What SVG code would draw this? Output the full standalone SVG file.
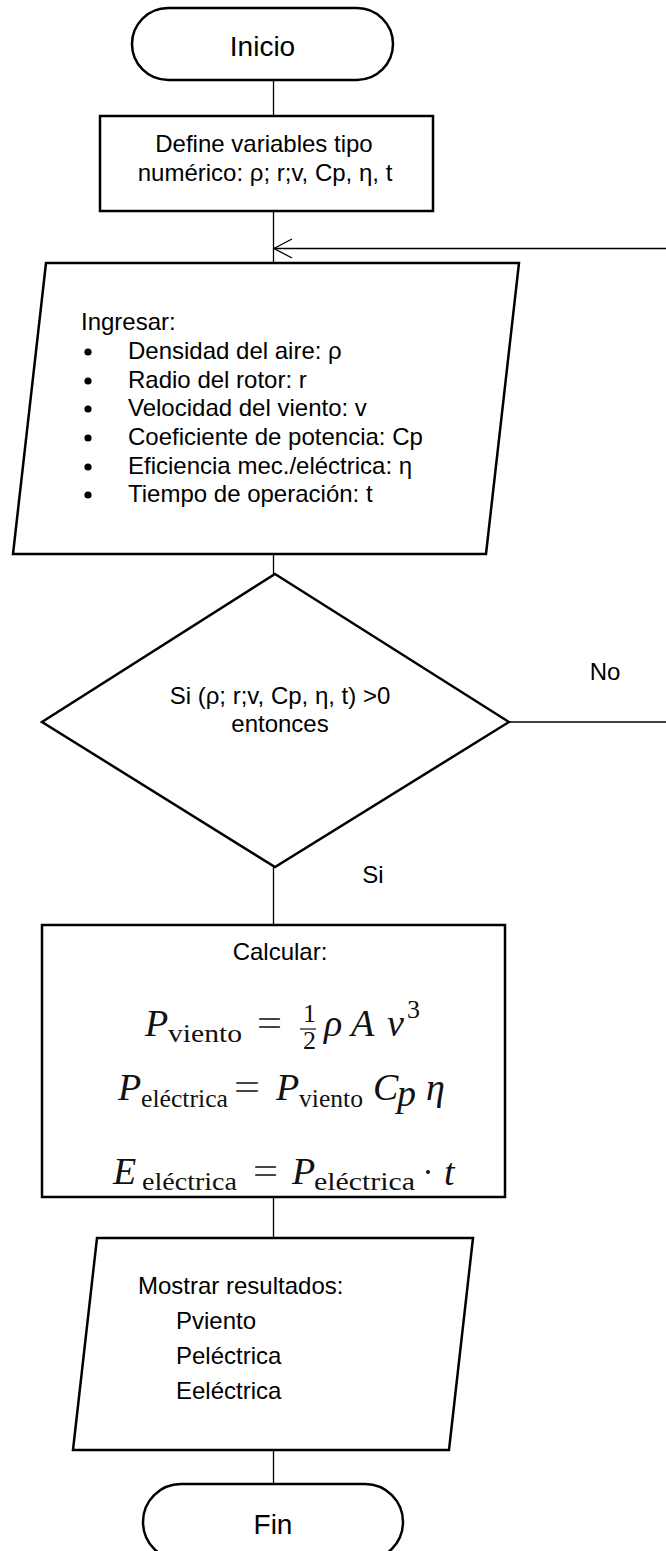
<svg xmlns="http://www.w3.org/2000/svg" width="666" height="1551" viewBox="0 0 666 1551">
<style>
.sh{fill:#fff;stroke:#000;stroke-width:2.5}
.ln{fill:none;stroke:#000;stroke-width:1.3}
.t{font-family:"Liberation Sans",Arial,sans-serif;font-size:24px;fill:#000}
.big{font-size:28px}
.m{text-anchor:middle}
.mi{font-family:"Liberation Serif","Times New Roman",serif;font-style:italic;font-size:38px;fill:#111}
.mr{font-family:"Liberation Serif","Times New Roman",serif;font-size:26px;fill:#111}
.eq{font-family:"Liberation Serif","Times New Roman",serif;font-size:38px;fill:#444}
</style>
<rect width="666" height="1551" fill="#fff"/>
<g id="connectors">
<line class="ln" x1="273.5" y1="80" x2="273.5" y2="116"/>
<line class="ln" x1="273.5" y1="211" x2="273.5" y2="263"/>
<line class="ln" x1="666" y1="248.5" x2="274" y2="248.5"/>
<polyline class="ln" points="292,239 274,248.5 292,258"/>
<line class="ln" x1="273.5" y1="554" x2="273.5" y2="574"/>
<line class="ln" x1="509" y1="722" x2="666" y2="722"/>
<line class="ln" x1="273.5" y1="867" x2="273.5" y2="925"/>
<line class="ln" x1="273.5" y1="1197" x2="273.5" y2="1238"/>
<line class="ln" x1="273.5" y1="1450" x2="273.5" y2="1484"/>
<text class="t" x="605" y="680" text-anchor="middle">No</text>
<text class="t" x="373" y="883" text-anchor="middle">Si</text>
</g>
<g id="inicio">
<rect class="sh" x="132" y="8" width="261" height="72" rx="36" ry="36"/>
<text class="t big m" x="262.5" y="56">Inicio</text>
</g>
<g id="define">
<rect class="sh" x="100" y="116" width="333" height="95"/>
<text class="t m" x="264" y="152">Define variables tipo</text>
<text class="t m" x="265" y="181">numérico: ρ; r;v, Cp, η, t</text>
</g>
<g id="ingresar">
<polygon class="sh" points="46,263 519,263 486,554 13,554"/>
<text class="t" x="81" y="330">Ingresar:</text>
<g fill="#000">
<circle cx="88" cy="352" r="3.6"/>
<circle cx="88" cy="381" r="3.6"/>
<circle cx="88" cy="409" r="3.6"/>
<circle cx="88" cy="438" r="3.6"/>
<circle cx="88" cy="467" r="3.6"/>
<circle cx="88" cy="495" r="3.6"/>
</g>
<text class="t" x="128" y="359">Densidad del aire: ρ</text>
<text class="t" x="128" y="388">Radio del rotor: r</text>
<text class="t" x="128" y="416">Velocidad del viento: v</text>
<text class="t" x="128" y="445">Coeficiente de potencia: Cp</text>
<text class="t" x="128" y="474">Eficiencia mec./eléctrica: η</text>
<text class="t" x="128" y="502">Tiempo de operación: t</text>
</g>
<g id="decision">
<polygon class="sh" points="275,574 509,722 275,867 42,722" stroke-width="2"/>
<text class="t m" x="280" y="704">Si (ρ; r;v, Cp, η, t) &gt;0</text>
<text class="t m" x="280" y="732">entonces</text>
</g>
<g id="calcular">
<rect class="sh" x="42" y="925" width="463" height="272"/>
<text class="t m" x="280" y="960">Calcular:</text>
<text class="mi" x="145" y="1036">P</text>
<text class="mr" x="168" y="1042" textLength="74" lengthAdjust="spacingAndGlyphs">viento</text>
<text class="eq" x="257" y="1036" textLength="25" lengthAdjust="spacingAndGlyphs">=</text>
<text class="mr" x="303" y="1022" font-size="21">1</text>
<line x1="300" y1="1029" x2="316" y2="1029" stroke="#111" stroke-width="1.2"/>
<text class="mr" x="303" y="1049" font-size="21">2</text>
<text class="mi" x="324" y="1036">ρ</text>
<text class="mi" x="351" y="1036">A</text>
<text class="mi" x="387" y="1036">v</text>
<text class="mr" x="407" y="1018" font-size="22">3</text>
<text class="mi" x="118" y="1100">P</text>
<text class="mr" x="141" y="1107" textLength="87" lengthAdjust="spacingAndGlyphs">eléctrica</text>
<text class="eq" x="234" y="1100" textLength="26" lengthAdjust="spacingAndGlyphs">=</text>
<text class="mi" x="276" y="1100">P</text>
<text class="mr" x="299" y="1107" textLength="64" lengthAdjust="spacingAndGlyphs">viento</text>
<text class="mi" x="373" y="1100">C</text>
<text class="mi" x="397" y="1106" font-size="26">p</text>
<text class="mi" x="426" y="1100">η</text>
<text class="mi" x="113" y="1184">E</text>
<text class="mr" x="142" y="1190" textLength="95" lengthAdjust="spacingAndGlyphs">eléctrica</text>
<text class="eq" x="253" y="1184" textLength="25" lengthAdjust="spacingAndGlyphs">=</text>
<text class="mi" x="292" y="1184">P</text>
<text class="mr" x="314" y="1190" textLength="101" lengthAdjust="spacingAndGlyphs">eléctrica</text>
<circle cx="428" cy="1172" r="2" fill="#111"/>
<text class="mi" x="444" y="1185">t</text>
</g>
<g id="mostrar">
<polygon class="sh" points="97,1238 473,1238 449,1450 73,1450"/>
<text class="t" x="138" y="1294">Mostrar resultados:</text>
<text class="t" x="176" y="1329">Pviento</text>
<text class="t" x="176" y="1364">Peléctrica</text>
<text class="t" x="176" y="1399">Eeléctrica</text>
</g>
<g id="fin">
<rect class="sh" x="143" y="1484" width="260" height="76" rx="38" ry="38"/>
<text class="t big m" x="273" y="1534">Fin</text>
</g>
</svg>
